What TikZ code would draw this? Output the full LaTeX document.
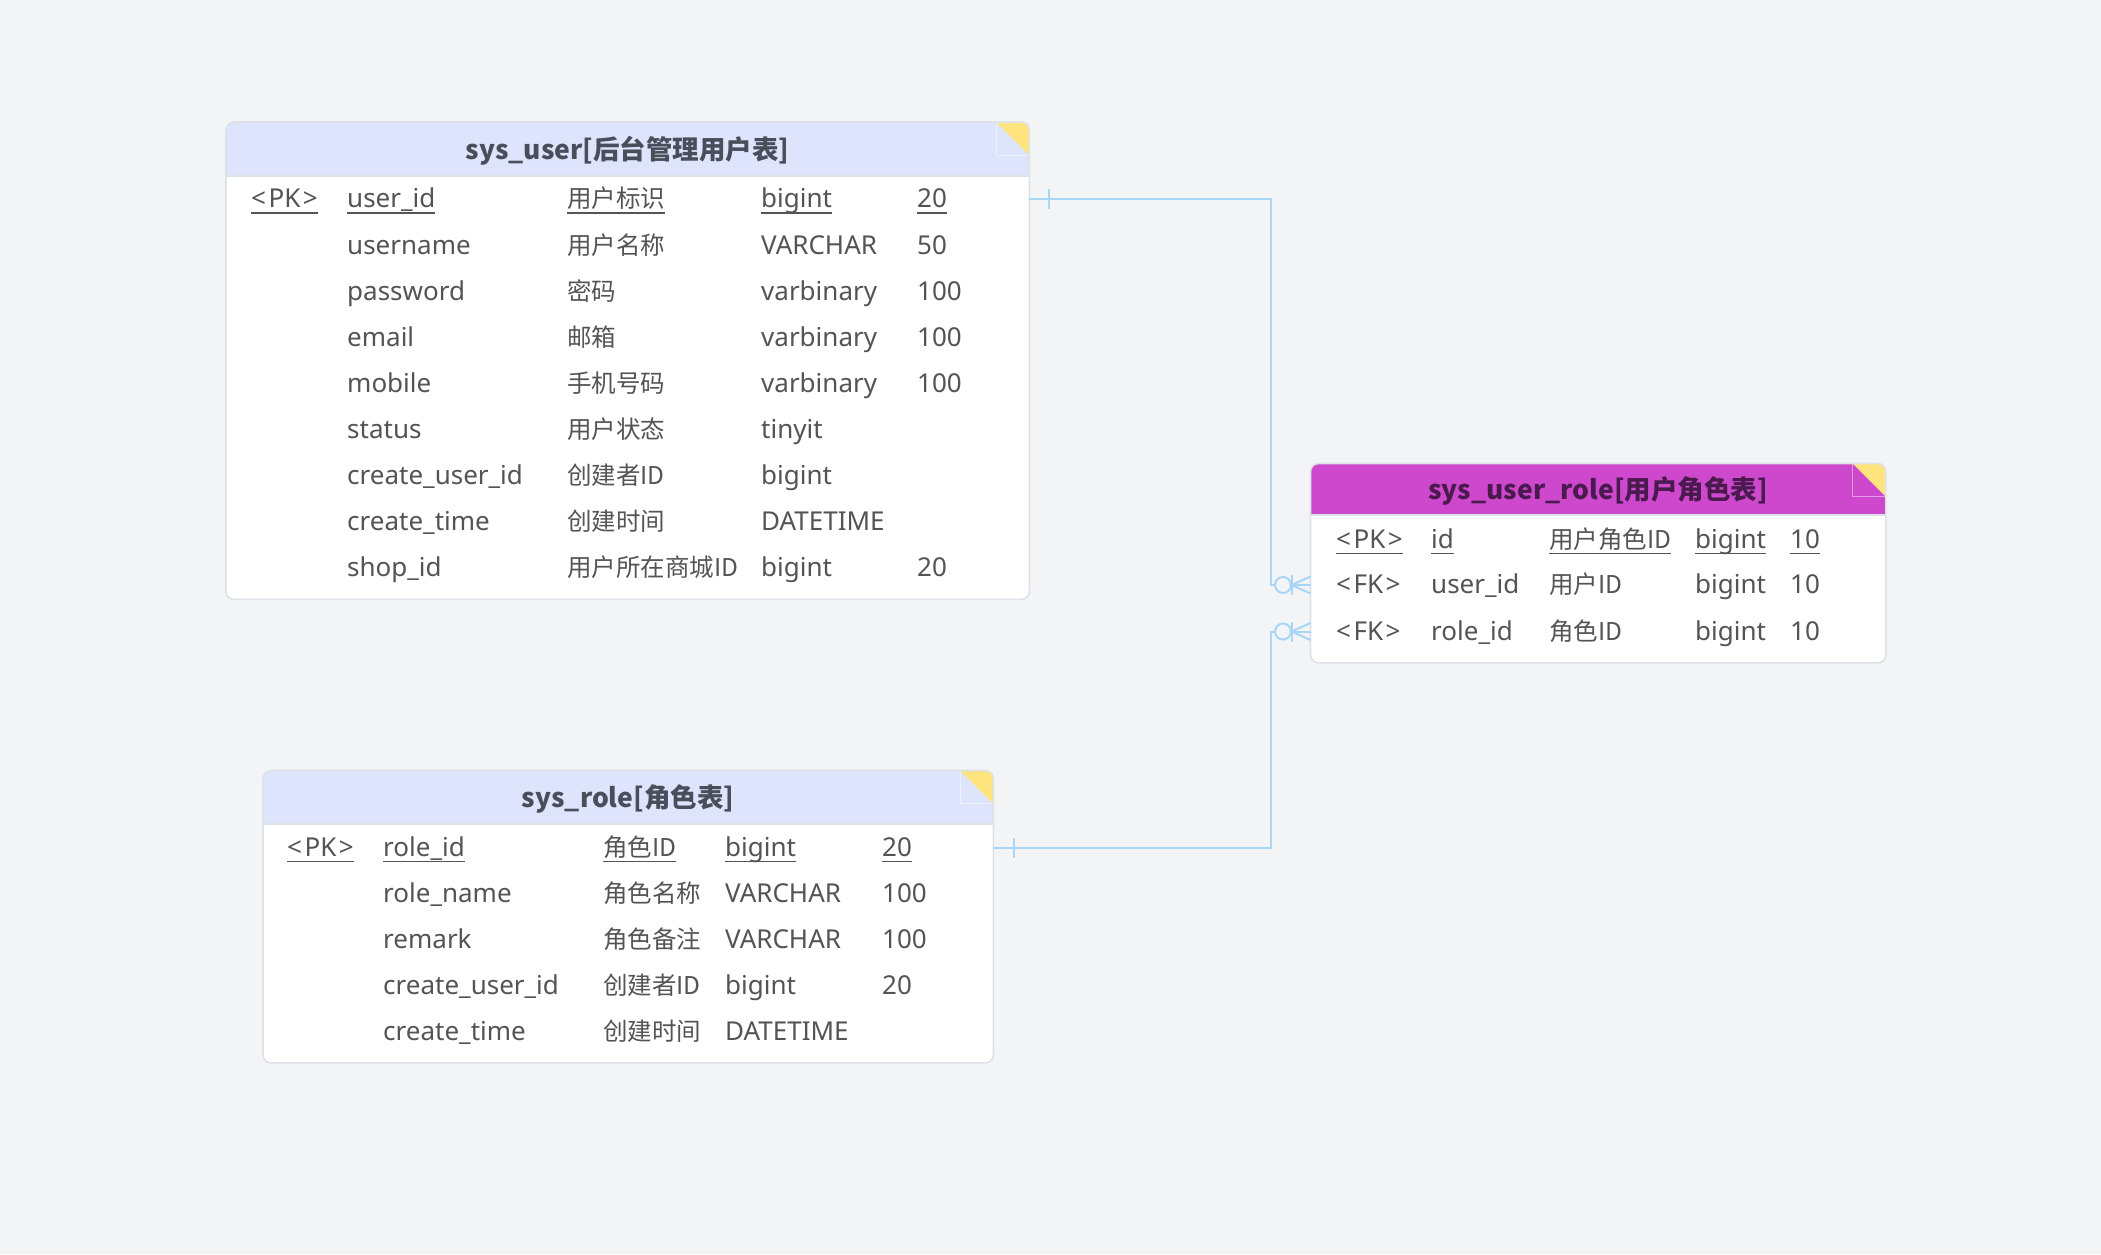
\documentclass[tikz,border=0pt]{standalone}
\usepackage{fontspec}
\usetikzlibrary{calc}
\setmainfont{Noto Sans}
\newfontfamily\cjkf{Noto Sans CJK SC}
\newcommand\zh[1]{{\cjkf\fontsize{24.5}{28}\selectfont #1}}
\newcommand\pkul[1]{\setbox0\hbox{#1}\rlap{\rule[-6pt]{\wd0}{1.5pt}}\box0}
\newcommand\keytag[1]{<\kern2.5pt#1\kern2.5pt>}
\definecolor{bgc}{RGB}{242,244,245}
\definecolor{hdr}{RGB}{221,228,252}
\definecolor{mag}{RGB}{206,72,206}
\definecolor{magtxt}{RGB}{74,26,78}
\definecolor{ttl}{RGB}{74,78,90}
\definecolor{txt}{RGB}{84,84,84}
\definecolor{yel}{RGB}{255,228,125}
\definecolor{lnblue}{RGB}{168,214,246}
\definecolor{bord}{RGB}{221,226,233}
\newcommand\frow[6]{%
  \node[cell] (#1n) at (\cB,#2) {#3};
  \node[cell] (#1c) at (\cC,#2) {#4};
  \node[cell] (#1t) at (\cD,#2) {#5};
  \if\relax\detokenize{#6}\relax\else\node[cell] (#1l) at (\cE,#2) {#6};\fi}
\newcommand\prow[7]{%
  \node[cell] (#1pk) at (\cA,#2) {#3};
  \frow{#1}{#2}{#4}{#5}{#6}{#7}}
\tikzset{
  cell/.style={anchor=west, inner sep=0pt, text height=20pt, text depth=3pt,
    font=\fontsize{26}{30}\selectfont, text=txt, yshift=-1pt},
  ttlnode/.style={anchor=center, inner sep=0pt, font=\cjkf\fontsize{26.5}{31}\selectfont\bfseries, yshift=-2pt},
  tablebox/.style={fill=white, rounded corners=8pt, anchor=north west, inner sep=0pt},
  outline/.style={draw=bord, line width=1.6pt, rounded corners=8pt},
  sepline/.style={draw=bord, line width=1.6pt},
  conn/.style={draw=lnblue, line width=2pt},
  fold/.style={draw=white, draw opacity=0.45, line width=1pt},
}
\begin{document}
\begin{tikzpicture}[x=1pt,y=-1pt]
\fill[bgc] (0,0) rectangle (2101,1254);
\useasboundingbox (0,0) rectangle (2101,1254);

% ---------- sys_user ----------
\node[tablebox, minimum width=803pt, minimum height=477pt] (user) at (226,122) {};
\begin{scope}
  \clip[rounded corners=8pt] (user.north west) rectangle (user.south east);
  \clip (226,122) rectangle (1029,176);
  \fill[hdr] (user.north west) rectangle (user.south east);
  \fill[yel] (996,122) -- (1029,122) -- (1029,155) -- cycle;
  \draw[fold] (996,122) -- (996,155) -- (1029,155);
\end{scope}
\draw[sepline] (226,176) -- (1029,176);
\draw[outline] (user.north west) rectangle (user.south east);
\node[ttlnode, text=ttl] (usertitle) at (627.5,149) {sys\_user[后台管理用户表]};
\def\cA{251}\def\cB{347}\def\cC{567}\def\cD{761}\def\cE{917}
\prow{u1}{198}{\pkul{\keytag{PK}}}{\pkul{user\_id}}{\pkul{\zh{用户标识}}}{\pkul{bigint}}{\pkul{20}}
\frow{u2}{244.6}{username}{\zh{用户名称}}{VARCHAR}{50}
\frow{u3}{290.7}{password}{\zh{密码}}{varbinary}{100}
\frow{u4}{336.8}{email}{\zh{邮箱}}{varbinary}{100}
\frow{u5}{382.9}{mobile}{\zh{手机号码}}{varbinary}{100}
\frow{u6}{429.0}{status}{\zh{用户状态}}{tinyit}{}
\frow{u7}{475.1}{create\_user\_id}{\zh{创建者ID}}{bigint}{}
\frow{u8}{521.2}{create\_time}{\zh{创建时间}}{DATETIME}{}
\frow{u9}{567.3}{shop\_id}{\zh{用户所在商城ID}}{bigint}{20}

% ---------- sys_user_role ----------
\node[tablebox, minimum width=575pt, minimum height=199pt] (ur) at (1310.5,463.5) {};
\begin{scope}
  \clip[rounded corners=8pt] (ur.north west) rectangle (ur.south east);
  \clip (1310.5,463.5) rectangle (1885.5,515);
  \fill[mag] (ur.north west) rectangle (ur.south east);
  \fill[yel] (1852.5,463.5) -- (1885.5,463.5) -- (1885.5,496.5) -- cycle;
  \draw[fold] (1852.5,463.5) -- (1852.5,496.5) -- (1885.5,496.5);
\end{scope}
\draw[sepline] (1310.5,515) -- (1885.5,515);
\draw[outline] (ur.north west) rectangle (ur.south east);
\node[ttlnode, text=magtxt] (urtitle) at (1598,489) {sys\_user\_role[用户角色表]};
\def\cA{1336}\def\cB{1431}\def\cC{1549}\def\cD{1695}\def\cE{1790}
\prow{ur1}{538.7}{\pkul{\keytag{PK}}}{\pkul{id}}{\pkul{\zh{用户角色ID}}}{\pkul{bigint}}{\pkul{10}}
\prow{ur2}{584}{\keytag{FK}}{user\_id}{\zh{用户ID}}{bigint}{10}
\prow{ur3}{630.5}{\keytag{FK}}{role\_id}{\zh{角色ID}}{bigint}{10}

% ---------- sys_role ----------
\node[tablebox, minimum width=730pt, minimum height=292pt] (role) at (263,770.5) {};
\begin{scope}
  \clip[rounded corners=8pt] (role.north west) rectangle (role.south east);
  \clip (263,770.5) rectangle (993,824);
  \fill[hdr] (role.north west) rectangle (role.south east);
  \fill[yel] (960,770.5) -- (993,770.5) -- (993,803.5) -- cycle;
  \draw[fold] (960,770.5) -- (960,803.5) -- (993,803.5);
\end{scope}
\draw[sepline] (263,824) -- (993,824);
\draw[outline] (role.north west) rectangle (role.south east);
\node[ttlnode, text=ttl] (roletitle) at (628,797) {sys\_role[角色表]};
\def\cA{287}\def\cB{383}\def\cC{603}\def\cD{725}\def\cE{882}
\prow{r1}{846.5}{\pkul{\keytag{PK}}}{\pkul{role\_id}}{\pkul{\zh{角色ID}}}{\pkul{bigint}}{\pkul{20}}
\frow{r2}{893}{role\_name}{\zh{角色名称}}{VARCHAR}{100}
\frow{r3}{939}{remark}{\zh{角色备注}}{VARCHAR}{100}
\frow{r4}{985}{create\_user\_id}{\zh{创建者ID}}{bigint}{20}
\frow{r5}{1031}{create\_time}{\zh{创建时间}}{DATETIME}{}

% ---------- connectors ----------
\coordinate (jx) at (1270.5,0);
\coordinate (s1) at (user.east |- u1n);
\coordinate (s2) at (role.east |- r1n);
\coordinate (e1) at (ur.west |- ur2n);
\coordinate (e2) at (ur.west |- ur3n);
\draw[conn] (s1) -| (jx |- e1) -- (e1);
\draw[conn] (s2) -| (jx |- e2) -- (e2);
% one-side ticks
\draw[conn] ($(s1)+(20,-10)$) -- ($(s1)+(20,10)$);
\draw[conn] ($(s2)+(21,-10)$) -- ($(s2)+(21,10)$);
% zero-or-many ends
\foreach \e in {e1,e2}{
  \draw[conn, fill=bgc] ($(\e)+(-27.5,0)$) circle (8);
  \draw[conn] ($(\e)+(-19,-10)$) -- ($(\e)+(-19,10)$);
  \draw[conn] ($(\e)+(0,-8.5)$) -- ($(\e)+(-19,0)$) -- ($(\e)+(0,8.5)$);
}
\end{tikzpicture}
\end{document}
